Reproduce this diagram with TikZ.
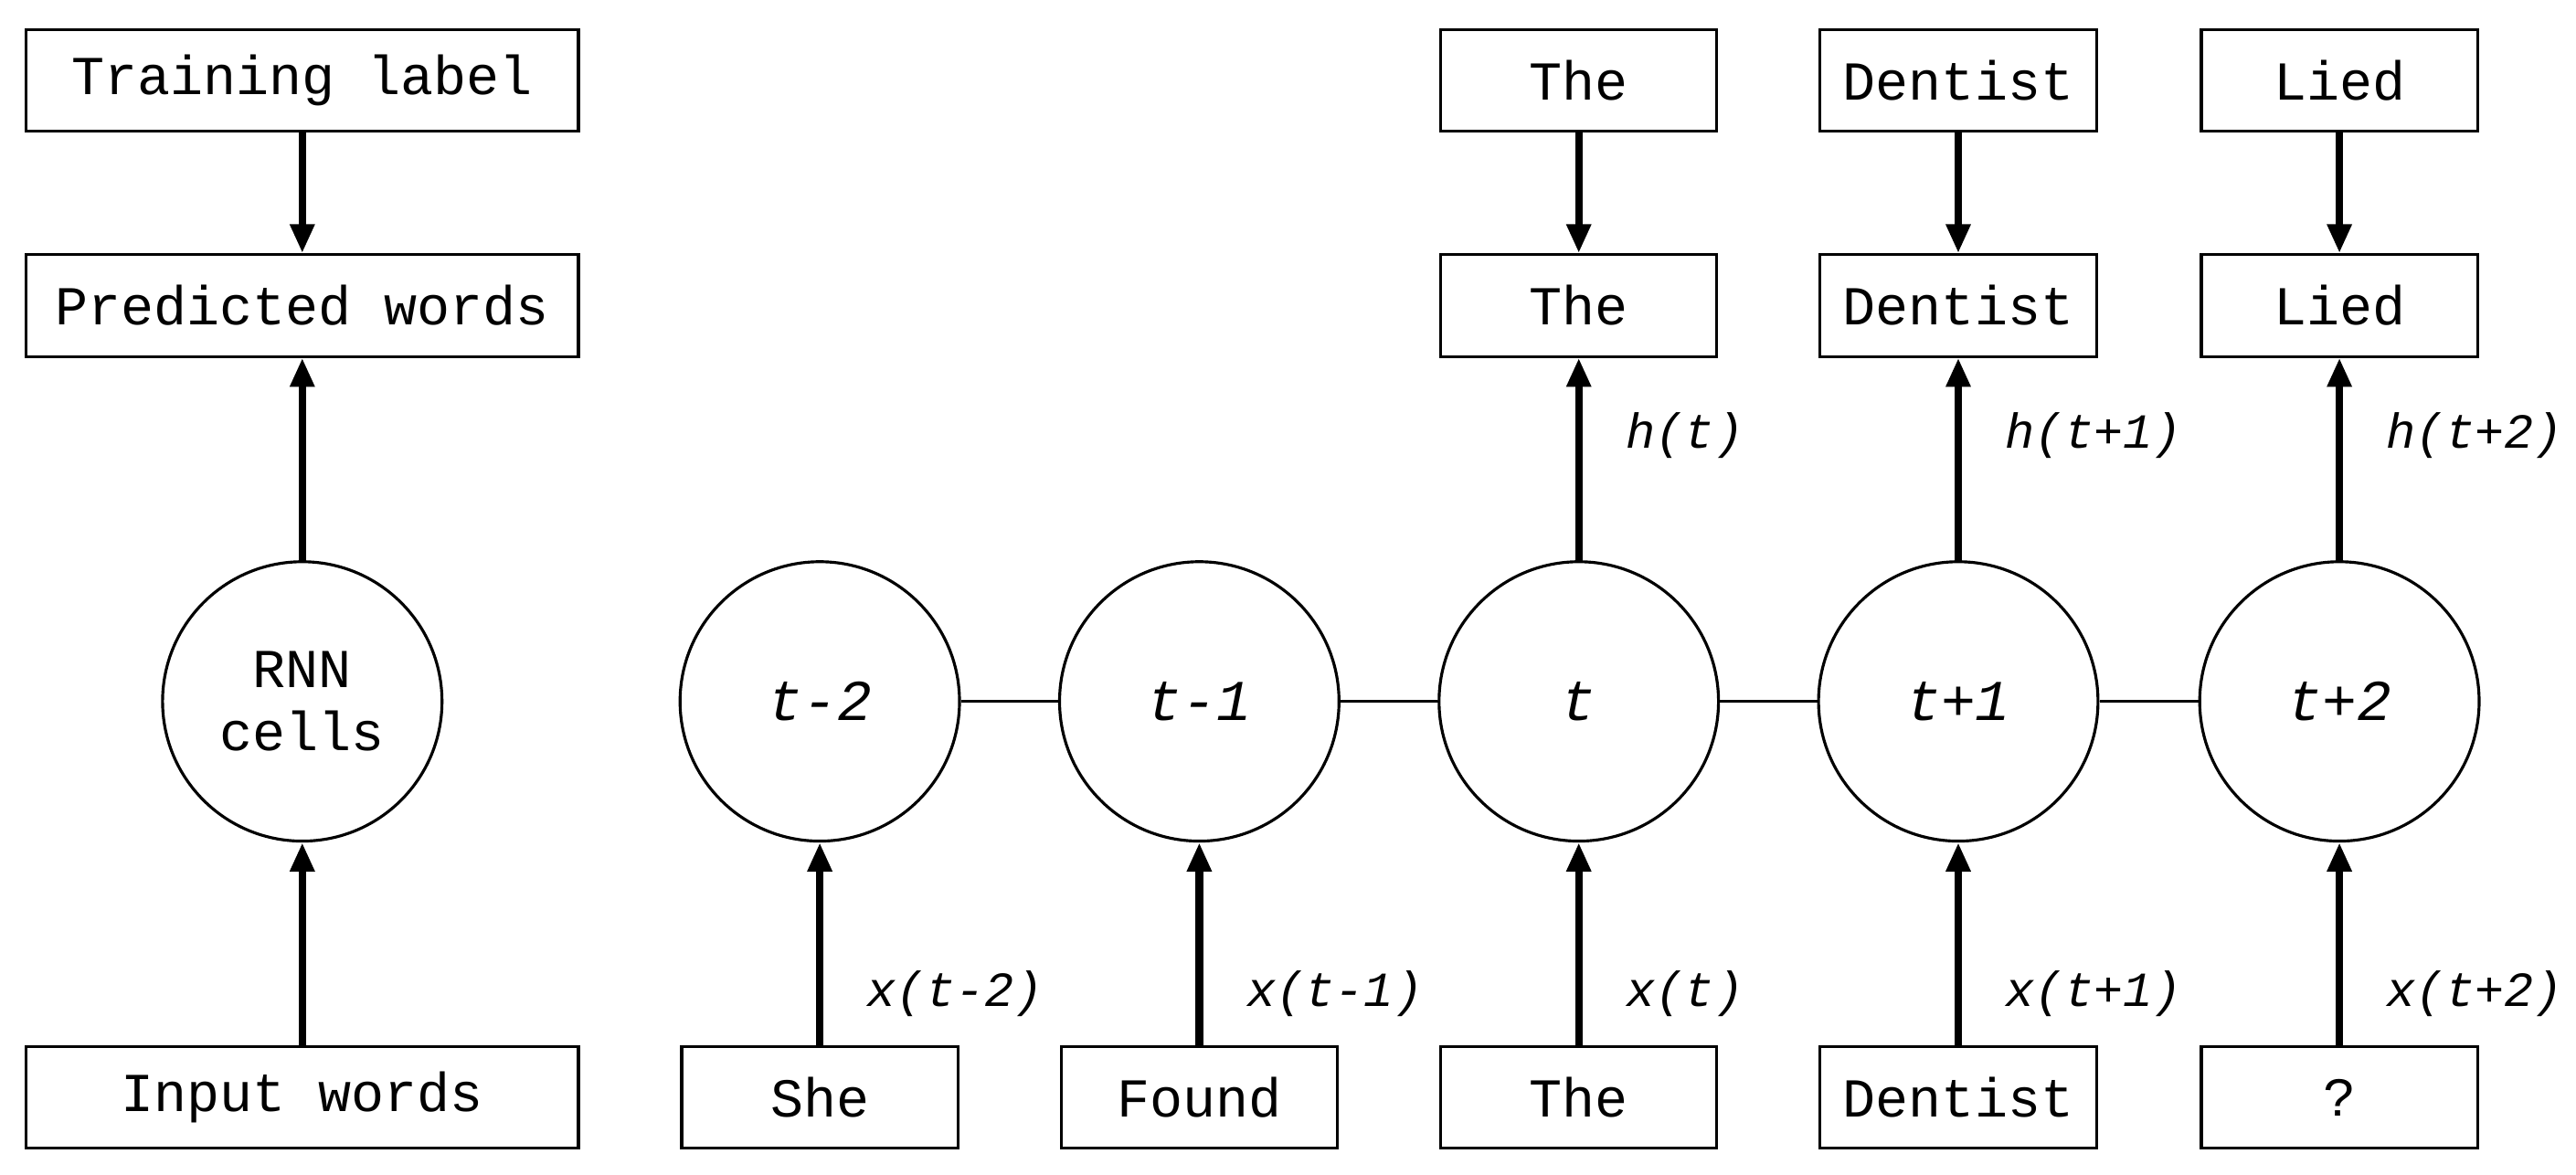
\documentclass[tikz,border=0pt]{standalone}
\usepackage{fontspec}
\setmainfont{Liberation Mono}
\usetikzlibrary{arrows.meta}
\begin{document}
\begin{tikzpicture}[x=0.01cm,y=-0.01cm,
 box/.style={draw,line width=0.5pt,minimum height=0.62cm,inner sep=0pt,font=\fontsize{9.5}{10}\selectfont},
 cell/.style={draw,circle,line width=0.5pt,minimum size=1.7cm,inner sep=0pt,font=\fontsize{9.5}{11}\selectfont},
 arr/.style={-{Triangle[length=5pt,width=4pt]},line width=1.3pt},
 lab/.style={font=\fontsize{8.5}{10}\selectfont\itshape,anchor=west,inner sep=0pt}]
\useasboundingbox (0,0) rectangle (1568,715);
\node[box,minimum width=3.36cm] (tl) at (184,49) {Training label};
\node[box,minimum width=3.36cm] (pw) at (184,186) {Predicted words};
\node[cell,align=center] (rc) at (184,427) {RNN\\cells};
\node[box,minimum width=3.36cm] (iw) at (184,668) {Input words};
\draw[arr] (tl) -- (pw);
\draw[arr] (rc) -- (pw);
\draw[arr] (iw) -- (rc);
\foreach \n/\x/\t/\w/\xl in {a/499/t-2/She/x(t-2),b/730/t-1/Found/x(t-1),c/961/t/The/x(t),d/1192/t+1/Dentist/x(t+1),e/1424/t+2/?/x(t+2)}{
 \node[cell,font=\fontsize{10}{11}\selectfont\itshape] (c\n) at (\x,427) {\t};
 \node[box,minimum width=1.68cm] (i\n) at (\x,668) {\w};
 \draw[arr] (i\n) -- (c\n);
 \node[lab] (xl\n) at (\x+28,605) {\xl};
}
\foreach \n/\x/\w/\h in {c/961/The/h(t),d/1192/Dentist/h(t+1),e/1424/Lied/h(t+2)}{
 \node[box,minimum width=1.68cm] (t\n) at (\x,49) {\w};
 \node[box,minimum width=1.68cm] (p\n) at (\x,186) {\w};
 \draw[arr] (t\n) -- (p\n);
 \draw[arr] (c\n) -- (p\n);
 \node[lab] (hl\n) at (\x+28,265) {\h};
}
\draw[line width=0.5pt] (ca)--(cb) (cb)--(cc) (cc)--(cd) (cd)--(ce);
\end{tikzpicture}
\end{document}
